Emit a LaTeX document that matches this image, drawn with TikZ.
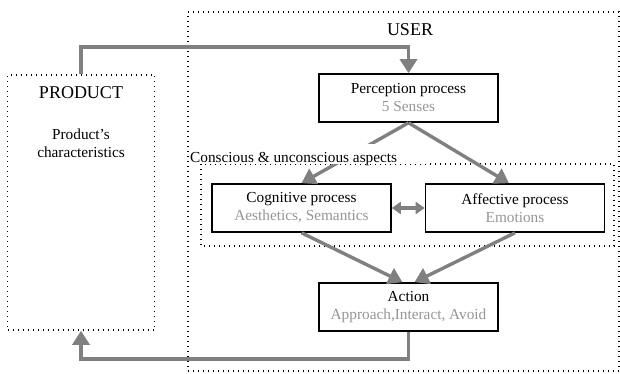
\documentclass[tikz,border=0pt]{standalone}
\usepackage{fontspec}
\setmainfont{Liberation Serif}
\usetikzlibrary{arrows.meta}
\definecolor{arr}{RGB}{128,128,128}
\definecolor{sub}{RGB}{150,150,150}
\begin{document}
\begin{tikzpicture}[x=1pt,y=-1pt,
  txt/.style={font=\fontsize{15.3}{18}\selectfont},
  proc/.style={txt, draw=black, line width=1.6pt, minimum width=179, minimum height=48, align=center, inner sep=0pt, fill=white},
  dotbox/.style={draw=black, line width=1.6pt, dash pattern=on 1pt off 4pt},
  conn/.style={draw=arr, line width=3.4pt, -{Triangle[length=14pt,width=17pt]}},
  conn2/.style={draw=arr, line width=3.4pt, {Triangle[length=9pt,width=12pt]}-{Triangle[length=9pt,width=12pt]}},
  ttl/.style={font=\fontsize{18}{21}\selectfont}]
\useasboundingbox (0,0) rectangle (620,374);
% dotted boxes
\node[dotbox, minimum width=431, minimum height=359, inner sep=0pt] (user) at (403.5,191.5) {};
\node[dotbox, minimum width=147, minimum height=255, inner sep=0pt] (product) at (81,202.5) {};
\draw[dotbox] (201,164) rectangle (614,246);
% texts
\node[ttl] (usert) at (410,30) {USER};
\node[ttl] (prodt) at (81,93) {PRODUCT};
\node[txt, align=center] (pchar) at (81,143) {Product's\\characteristics};
% process boxes
\node[proc] (percep) at (408.5,98) {Perception process\\\textcolor{sub}{5 Senses}};
\node[proc] (cog) at (301.5,208) {Cognitive process\\\textcolor{sub}{Aesthetics, Semantics}};
\node[proc] (affect) at (515,208) {Affective process\\\textcolor{sub}{Emotions}};
\node[proc] (action) at (408.5,307) {Action\\\textcolor{sub}{Approach,Interact, Avoid}};
% connectors
\coordinate (topy) at (0,47);
\coordinate (boty) at (0,359);
\draw[conn] (product.north) -- (product.north |- topy) -| (percep.north);
\draw[conn] (action.south) -- (action.south |- boty) -| (product.south);
\draw[conn] (percep.south) -- (cog.north);
\draw[conn] (percep.south) -- ([xshift=-6pt]affect.north);
\draw[conn] (cog.south) -- ([xshift=-6pt]action.north);
\draw[conn] (affect.south) -- ([xshift=6pt]action.north);
\draw[conn2] (cog.east) -- (affect.west);
% label over the arrow
\node[fill=white, inner sep=0pt, minimum width=238, minimum height=20, anchor=north west] (lblbg) at (190,144) {};
\node[txt, anchor=base west, inner sep=0pt] (lbl) at (190,162) {Conscious \& unconscious aspects};
\end{tikzpicture}
\end{document}
